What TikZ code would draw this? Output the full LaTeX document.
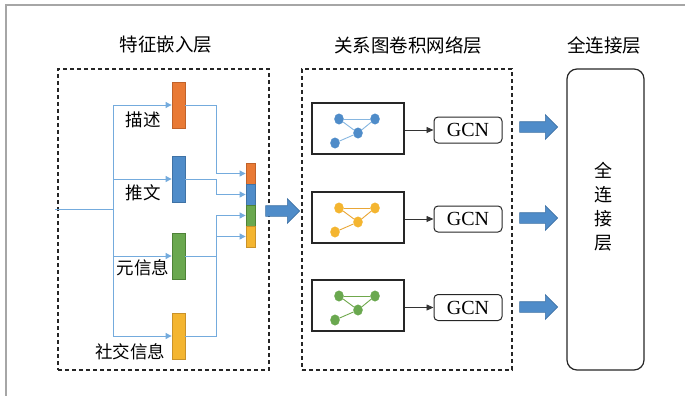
\documentclass[tikz,border=0pt]{standalone}
\usepackage{fontspec}
\setmainfont{Liberation Serif}
\newfontfamily\cjk{Noto Sans CJK SC}
\usetikzlibrary{arrows.meta,shapes.geometric,shapes.arrows}
\definecolor{cOr}{HTML}{E97A35}
\definecolor{cOrD}{HTML}{C0622A}
\definecolor{cBl}{HTML}{4F8CC9}
\definecolor{cBlD}{HTML}{3F72A5}
\definecolor{cGr}{HTML}{6AA84F}
\definecolor{cGrD}{HTML}{4E8237}
\definecolor{cYe}{HTML}{F4B530}
\definecolor{cYeD}{HTML}{C9922A}
\definecolor{cLn}{HTML}{74ABDD}
\definecolor{cFrame}{HTML}{A6A6A6}
\definecolor{eBl}{HTML}{86B6E0}
\definecolor{eOr}{HTML}{E9A636}
\definecolor{eGr}{HTML}{6FA84C}
\tikzset{
  x=1pt,y=-1pt,
  bar/.style={draw=#1, line width=0.8pt, minimum width=13pt, inner sep=0pt},
  cseg/.style={draw=#1, line width=0.8pt, minimum width=9pt, minimum height=21pt, inner sep=0pt},
  conn/.style={draw=cLn, line width=0.9pt},
  connarr/.style={conn, -{Triangle[length=6pt,width=6pt]}, cLn},
  lab/.style={font=\cjk\fontsize{17.5}{20}\selectfont, inner sep=0pt},
  title/.style={font=\cjk\fontsize{18.5}{20}\selectfont, inner sep=0pt},
  dbox/.style={draw=black!85, line width=1.1pt, dash pattern=on 4pt off 3pt, inner sep=0pt},
  gbox/.style={draw=black!85, line width=1.2pt, minimum width=92pt, minimum height=51pt, inner sep=0pt},
  gcn/.style={draw=black!85, line width=1pt, rounded corners=4pt, minimum width=68pt, minimum height=26pt, inner sep=0pt, font=\fontsize{20}{22}\selectfont},
  gnode/.style={ellipse, fill=#1, draw=#1, minimum width=9pt, minimum height=10.5pt, inner sep=0pt},
  garr/.style={draw=black!80, line width=0.8pt, -{Triangle[length=7pt,width=6pt]}},
  bigarrow/.style={single arrow, fill=cBl, draw=cBlD, line width=0.6pt, inner xsep=0pt, inner ysep=5pt, single arrow head extend=7pt, single arrow head indent=0pt, minimum height=#1, text width=0pt},
}
\begin{document}
\begin{tikzpicture}
\useasboundingbox (0,0) rectangle (685,396);
% frame
\draw[cFrame, line width=2pt] (5.5,396) -- (5.5,5.5) -- (685,5.5);

% titles
\node[title] (t1) at (166,45) {特征嵌入层};
\node[title] (t2) at (408,45) {关系图卷积网络层};
\node[title] (t3) at (604,45) {全连接层};

% dashed boxes
\node[dbox, minimum width=211pt, minimum height=301pt] (emb) at (163.5,219.5) {};
\node[dbox, minimum width=210pt, minimum height=301pt] (rgcn) at (407,219.5) {};
\node[draw=black!85, line width=1.2pt, rounded corners=10pt, minimum width=77pt, minimum height=301pt, inner sep=0pt] (fc) at (605.5,219.5) {};
\node[font=\cjk\fontsize{18}{24}\selectfont, align=center, inner sep=0pt] (fct) at (603,207) {全\\连\\接\\层};

% feature bars
\node[bar=cOrD, fill=cOr, minimum height=46pt] (b1) at (178.5,105) {};
\node[bar=cBlD, fill=cBl, minimum height=46pt] (b2) at (178.5,179) {};
\node[bar=cGrD, fill=cGr, minimum height=46pt] (b3) at (178.5,256) {};
\node[bar=cYeD, fill=cYe, minimum height=46pt] (b4) at (178.5,336) {};

\node[lab] (l1) at (143,120) {描述};
\node[lab] (l2) at (143,193) {推文};
\node[lab] (l3) at (143,268) {元信息};
\node[lab] (l4) at (130,352) {社交信息};

% combined bar
\node[cseg=cOrD, fill=cOr] (c1) at (250.5,173.5) {};
\node[cseg=cBlD, fill=cBl] (c2) at (250.5,194.5) {};
\node[cseg=cGrD, fill=cGr] (c3) at (250.5,215.5) {};
\node[cseg=cYeD, fill=cYe] (c4) at (250.5,236.5) {};

% input connectors
\coordinate (in) at (55,209);
\coordinate (sp) at (113,209);
\coordinate (mx) at (216,0);
\draw[conn] (in) -- (sp);
\draw[conn] (b1.west -| sp) -- (b4.west -| sp);
\draw[connarr] (b1.west -| sp) -- (b1.west);
\draw[connarr] (b2.west -| sp) -- (b2.west);
\draw[connarr] (b3.west -| sp) -- (b3.west);
\draw[connarr] (b4.west -| sp) -- (b4.west);

% output connectors
\draw[connarr] (b1.east) -- (b1.east -| mx) |- (c1.west);
\draw[connarr] (b2.east) -- (b2.east -| mx) |- (c2.west);
\draw[connarr] (b3.east) -- (b3.east -| mx) |- (c3.west);
\draw[connarr] (b4.east) -- (b4.east -| mx) |- (c4.west);

% big arrows
\node[bigarrow=34pt] (a1) at (280,211) {};
\node[bigarrow=38pt] (a2) at (536,127) {};
\node[bigarrow=38pt] (a3) at (536,218) {};
\node[bigarrow=38pt] (a4) at (536,307) {};

% graph boxes and GCN
\node[gbox] (g1) at (358,128.5) {};
\node[gbox] (g2) at (358,217.5) {};
\node[gbox] (g3) at (358,305.5) {};
\node[gcn] (n1) at (468,130) {GCN};
\node[gcn] (n2) at (468,219) {GCN};
\node[gcn] (n3) at (468,307.5) {GCN};
\draw[garr] (g1.east |- n1) -- (n1.west);
\draw[garr] (g2.east |- n2) -- (n2.west);
\draw[garr] (g3.east |- n3) -- (n3.west);

% mini graphs
\foreach \k/\dy/\fc/\ec in {1/0/cBl/eBl, 2/89/cYe/eOr, 3/177/cGr/eGr}{
  \node[gnode=\fc] (p\k a) at (339,119+\dy) {};
  \node[gnode=\fc] (p\k b) at (375,119+\dy) {};
  \node[gnode=\fc] (p\k c) at (358,133+\dy) {};
  \node[gnode=\fc] (p\k d) at (335,143+\dy) {};
  \draw[\ec, line width=0.9pt] (p\k a) -- (p\k b);
  \draw[\ec, line width=0.9pt] (p\k a) -- (p\k c);
  \draw[\ec, line width=0.9pt] (p\k b) -- (p\k c);
  \draw[\ec, line width=0.9pt] (p\k c) -- (p\k d);
}
\end{tikzpicture}
\end{document}
